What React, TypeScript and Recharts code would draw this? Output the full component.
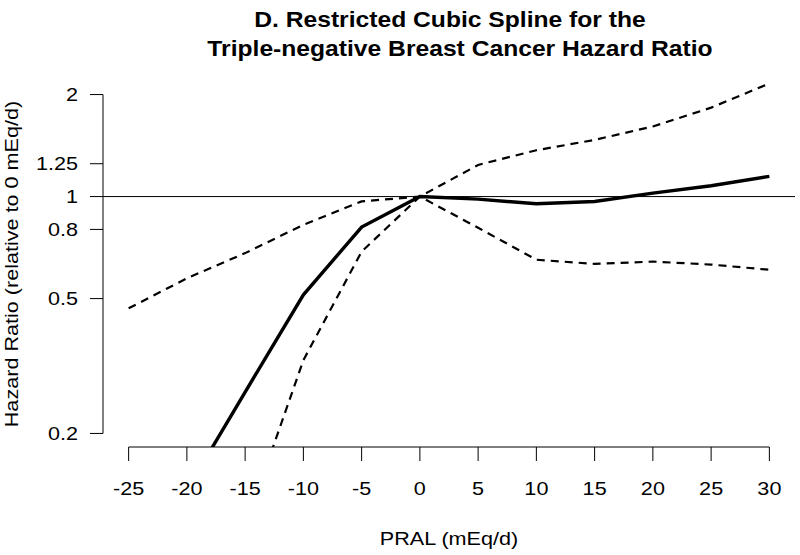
import {
  LineChart,
  Line,
  XAxis,
  YAxis,
  ReferenceLine,
  Label,
} from "recharts";

// PRAL values (mEq/d) where the spline was evaluated
const pral = [-25, -20, -15, -10, -5, 0, 5, 10, 15, 20, 25, 30];
// hazard ratio estimate and 95% CI
const hrEstimate = [0.069, 0.136, 0.265, 0.513, 0.813, 1, 0.983, 0.952, 0.967, 1.024, 1.076, 1.147];
const hrUpper = [0.468, 0.574, 0.681, 0.825, 0.968, 1, 1.24, 1.37, 1.47, 1.61, 1.83, 2.156];
const hrLower = [0.012, 0.035, 0.106, 0.329, 0.688, 1, 0.809, 0.651, 0.633, 0.643, 0.63, 0.608];

const xTicks = [-25, -20, -15, -10, -5, 0, 5, 10, 15, 20, 25, 30];
const yTicks = [0.2, 0.5, 0.8, 1, 1.25, 2];

const titleLines = [
  "D. Restricted Cubic Spline for the",
  "Triple-negative Breast Cancer Hazard Ratio",
];

const data = pral.map((x, i) => ({
  x,
  est: hrEstimate[i],
  upper: hrUpper[i],
  lower: hrLower[i],
}));

const X_DOMAIN: [number, number] = [-27.2, 32.2];
const Y_DOMAIN: [number, number] = [0.1824, 2.193];

const font = "'Liberation Sans', Arial, sans-serif";
// the original glyphs are a bit wider than Arial at the same height
const WIDE = "scale(1.2,1)";

function XTick(props: any) {
  const { x, y, payload } = props;
  return (
    <g transform={`translate(${x},${y})`}>
      <text transform={WIDE} textAnchor="middle" dy="0.71em" fill="#000" fontSize={18} fontFamily={font}>
        {payload.value}
      </text>
    </g>
  );
}

function YTick(props: any) {
  const { x, y, payload } = props;
  return (
    <g transform={`translate(${x},${y})`}>
      <text transform={WIDE} textAnchor="end" dy="0.355em" fill="#000" fontSize={18} fontFamily={font}>
        {payload.value}
      </text>
    </g>
  );
}

export default function App() {
  return (
    <div style={{ position: "absolute", left: 0, top: 0, width: 800, height: 555, background: "#fff" }}>
      {titleLines.map((t, i) => (
        <div
          key={t}
          style={{
            position: "absolute",
            left: (i === 0 ? 450 : 460) - 350,
            width: 700,
            top: 5 + i * 29,
            textAlign: "center",
            fontFamily: font,
            fontWeight: "bold",
            fontSize: 22,
            lineHeight: "30px",
            color: "#000",
            transform: "scaleX(1.12)",
            transformOrigin: "center",
          }}
        >
          {t}
        </div>
      ))}
      <LineChart
        width={800}
        height={555}
        data={data}
        margin={{ top: 81, right: 5, bottom: 0, left: 0 }}
      >
        <XAxis
          dataKey="x"
          type="number"
          domain={X_DOMAIN}
          ticks={xTicks}
          allowDataOverflow
          axisLine={false}
          tickLine={{ stroke: "#000", strokeWidth: 1 }}
          tickSize={14}
          tickMargin={21}
          height={108}
          tick={<XTick />}
        >
          <Label
            content={(p: any) => {
              const vb = p.viewBox;
              return (
                <text
                  x={0}
                  y={0}
                  transform={`translate(${vb.x + vb.width / 2},545) ${WIDE}`}
                  textAnchor="middle"
                  fill="#000"
                  fontSize={18}
                  fontFamily={font}
                >
                  PRAL (mEq/d)
                </text>
              );
            }}
          />
        </XAxis>
        <YAxis
          type="number"
          scale="log"
          domain={Y_DOMAIN}
          ticks={yTicks}
          allowDataOverflow
          axisLine={false}
          tickLine={{ stroke: "#000", strokeWidth: 1 }}
          tickSize={13}
          tickMargin={12}
          width={103}
          tick={<YTick />}
        >
          <Label
            content={(p: any) => {
              const vb = p.viewBox;
              return (
                <text
                  x={0}
                  y={0}
                  transform={`translate(18,${vb.y + vb.height / 2}) rotate(-90) ${WIDE}`}
                  textAnchor="middle"
                  fill="#000"
                  fontSize={18}
                  fontFamily={font}
                >
                  Hazard Ratio (relative to 0 mEq/d)
                </text>
              );
            }}
          />
        </YAxis>

        {/* R-style axis lines that span only the tick range */}
        <ReferenceLine
          segment={[{ x: -25, y: Y_DOMAIN[0] }, { x: 30, y: Y_DOMAIN[0] }]}
          stroke="#000"
          strokeWidth={1}
          ifOverflow="visible"
        />
        <ReferenceLine
          segment={[{ x: X_DOMAIN[0], y: 0.2 }, { x: X_DOMAIN[0], y: 2 }]}
          stroke="#000"
          strokeWidth={1}
          ifOverflow="visible"
        />
        <ReferenceLine y={1} stroke="#000" strokeWidth={1} />

        <Line
          dataKey="upper"
          type="linear"
          stroke="#000"
          strokeWidth={2.2}
          strokeDasharray="8 6"
          dot={false}
          isAnimationActive={false}
        />
        <Line
          dataKey="lower"
          type="linear"
          stroke="#000"
          strokeWidth={2.2}
          strokeDasharray="8 6"
          dot={false}
          isAnimationActive={false}
        />
        <Line
          dataKey="est"
          type="linear"
          stroke="#000"
          strokeWidth={3.4}
          dot={false}
          isAnimationActive={false}
        />
      </LineChart>
    </div>
  );
}
